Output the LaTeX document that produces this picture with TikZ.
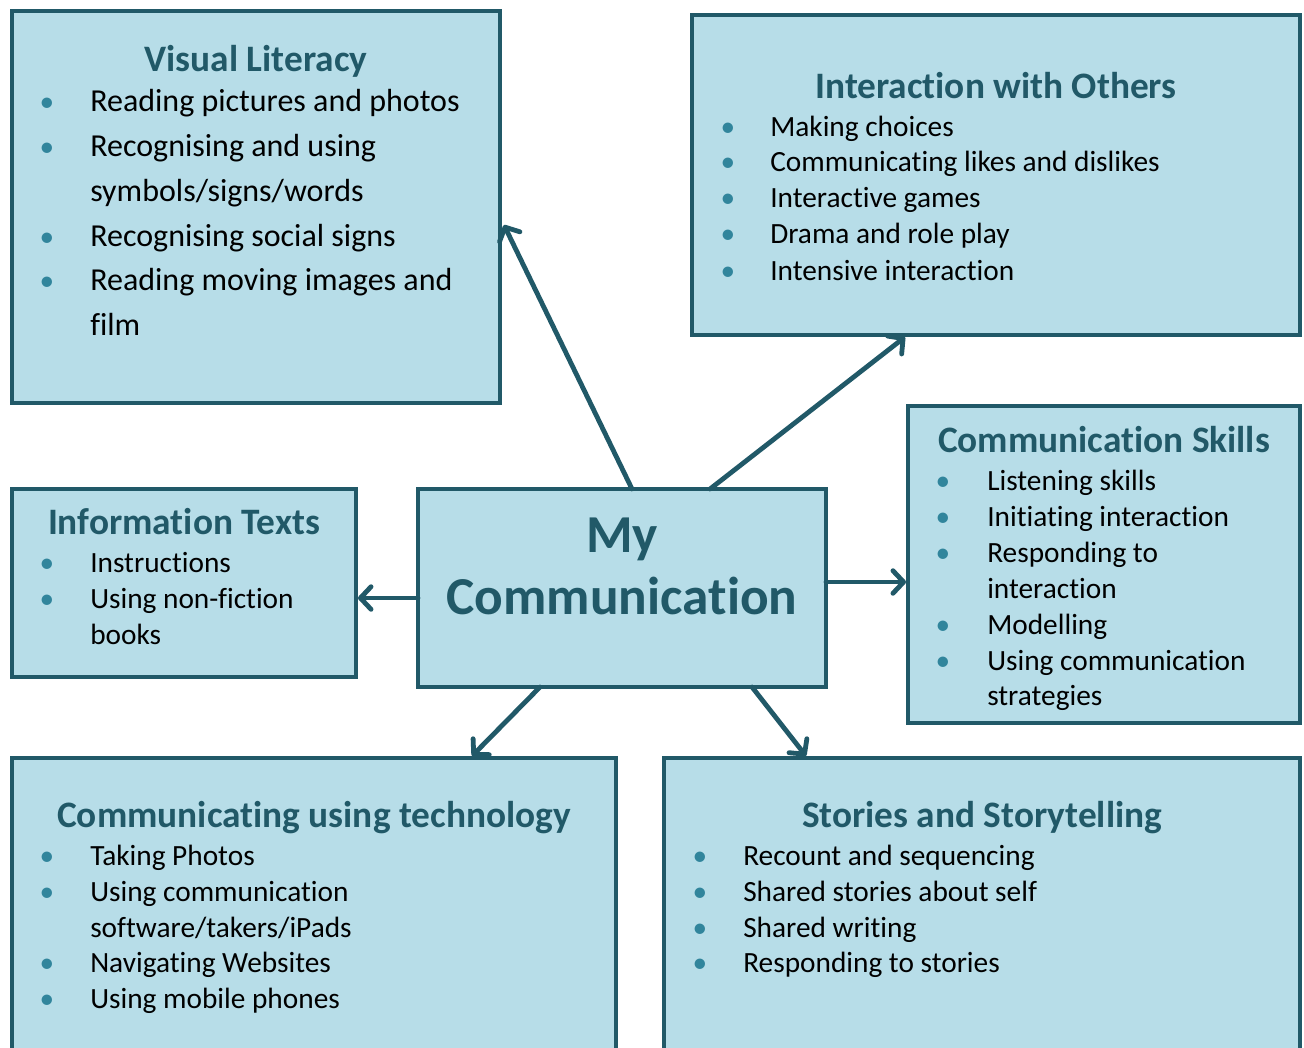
\documentclass[tikz,border=0pt]{standalone}
\usepackage{fontspec}
\setmainfont{Carlito}[Ligatures=NoCommon]
\usetikzlibrary{arrows.meta,calc}
\definecolor{boxfill}{HTML}{B7DDE8}
\definecolor{boxline}{HTML}{215968}
\definecolor{bulletc}{HTML}{31859C}
\begin{document}
\begin{tikzpicture}[x=0.75pt,y=-0.75pt,
  box/.style={draw=boxline,fill=boxfill,line width=3pt,inner sep=0pt,outer sep=0pt,anchor=north west,rectangle},
  conn/.style={draw=boxline,line width=3.6pt,line cap=round,-{Straight Barb[length=8pt,width=17pt,line cap=round,line join=round]}},
  itm/.style={anchor=base west,inner sep=0pt,font=\fontsize{22}{26}\selectfont},
  itmL/.style={anchor=base west,inner sep=0pt,font=\fontsize{24}{28}\selectfont},
  bul/.style={anchor=base,inner sep=0pt,text=bulletc,font=\fontsize{22}{26}\selectfont},
  ttl/.style={anchor=base,inner sep=0pt,text=boxline,font=\bfseries\fontsize{28}{32}\selectfont},
  big/.style={anchor=base,inner sep=0pt,text=boxline,font=\bfseries\fontsize{40}{46}\selectfont}]
\clip (0,0) rectangle (1304,1047);
\fill[white] (0,0) rectangle (1304,1047);

% boxes
\node[box,minimum width=366pt,minimum height=294pt] (vl) at (12,11) {};
\node[box,minimum width=456pt,minimum height=240pt] (io) at (692,15) {};
\node[box,minimum width=294pt,minimum height=237.75pt] (cs) at (908,406) {};
\node[box,minimum width=258pt,minimum height=141pt] (it) at (12,489) {};
\node[box,minimum width=306pt,minimum height=148.5pt] (mc) at (418,489) {};
\node[box,minimum width=453pt,minimum height=234pt] (ct) at (12,758) {};
\node[box,minimum width=477pt,minimum height=234pt] (st) at (664,758) {};

% connectors
\coordinate (a1s) at ($(mc.north west)+(214,0)$);
\coordinate (a1e) at ($(vl.north east)+(4,214)$);
\coordinate (a2s) at ($(mc.north west)+(292,0)$);
\coordinate (a2e) at ($(io.south west)+(213,2)$);
\coordinate (a3s) at ($(mc.north west)+(0,109)$);
\coordinate (a3e) at ($(it.north east)+(2,109)$);
\coordinate (a4s) at ($(mc.north east)+(0,93)$);
\coordinate (a4e) at ($(cs.north west)+(-2,176)$);
\coordinate (a5s) at ($(mc.south west)+(122,0)$);
\coordinate (a5e) at ($(ct.north west)+(460,-2)$);
\coordinate (a6s) at ($(mc.south west)+(334,0)$);
\coordinate (a6e) at ($(st.north west)+(142,-2)$);
\draw[conn] (a1s) -- (a1e);
\draw[conn] (a2s) -- (a2e);
\draw[conn] (a3s) -- (a3e);
\draw[conn] (a4s) -- (a4e);
\draw[conn] (a5s) -- (a5e);
\draw[conn] (a6s) -- (a6e);

% My Communication
\node[big] (mc1) at (622,552) {My};
\node[big] (mc2) at (622,614) {Communication};

% Visual Literacy
\node[ttl] (vlt) at (256,71) {Visual Literacy};
\node[bul] (vlb1) at (47,111) {•};
\node[itmL] (vl1) at (90,111) {Reading pictures and photos};
\node[bul] (vlb2) at (47,156) {•};
\node[itmL] (vl2) at (90,156) {Recognising and using};
\node[itmL] (vl3) at (90,201) {symbols/signs/words};
\node[bul] (vlb4) at (47,246) {•};
\node[itmL] (vl4) at (90,246) {Recognising social signs};
\node[bul] (vlb5) at (47,290) {•};
\node[itmL] (vl5) at (90,290) {Reading moving images and};
\node[itmL] (vl6) at (90,335) {film};

% Interaction with Others
\node[ttl] (iot) at (996,98) {Interaction with Others};
\node[bul] (iob1) at (728,136) {•};
\node[itm] (io1) at (770,136) {Making choices};
\node[bul] (iob2) at (728,171) {•};
\node[itm] (io2) at (770,171) {Communicating likes and dislikes};
\node[bul] (iob3) at (728,207) {•};
\node[itm] (io3) at (770,207) {Interactive games};
\node[bul] (iob4) at (728,243) {•};
\node[itm] (io4) at (770,243) {Drama and role play};
\node[bul] (iob5) at (728,280) {•};
\node[itm] (io5) at (770,280) {Intensive interaction};

% Communication Skills
\node[ttl] (cst) at (1104,452) {Communication Skills};
\node[bul] (csb1) at (943,490) {•};
\node[itm] (cs1) at (987,490) {Listening skills};
\node[bul] (csb2) at (943,526) {•};
\node[itm] (cs2) at (987,526) {Initiating interaction};
\node[bul] (csb3) at (943,562) {•};
\node[itm] (cs3) at (987,562) {Responding to};
\node[itm] (cs4) at (987,598) {interaction};
\node[bul] (csb5) at (943,634) {•};
\node[itm] (cs5) at (987,634) {Modelling};
\node[bul] (csb6) at (943,670) {•};
\node[itm] (cs6) at (987,670) {Using communication};
\node[itm] (cs7) at (987,705) {strategies};

% Information Texts
\node[ttl] (itt) at (184,534) {Information Texts};
\node[bul] (itb1) at (47,572) {•};
\node[itm] (it1) at (90,572) {Instructions};
\node[bul] (itb2) at (47,608) {•};
\node[itm] (it2) at (90,608) {Using non-fiction};
\node[itm] (it3) at (90,644) {books};

% Communicating using technology
\node[ttl] (ctt) at (314,827) {Communicating using technology};
\node[bul] (ctb1) at (47,865) {•};
\node[itm] (ct1) at (90,865) {Taking Photos};
\node[bul] (ctb2) at (47,901) {•};
\node[itm] (ct2) at (90,901) {Using communication};
\node[itm] (ct3) at (90,937) {software/takers/iPads};
\node[bul] (ctb4) at (47,972) {•};
\node[itm] (ct4) at (90,972) {Navigating Websites};
\node[bul] (ctb5) at (47,1008) {•};
\node[itm] (ct5) at (90,1008) {Using mobile phones};

% Stories and Storytelling
\node[ttl] (stt) at (982,827) {Stories and Storytelling};
\node[bul] (stb1) at (700,865) {•};
\node[itm] (st1) at (743,865) {Recount and sequencing};
\node[bul] (stb2) at (700,901) {•};
\node[itm] (st2) at (743,901) {Shared stories about self};
\node[bul] (stb3) at (700,937) {•};
\node[itm] (st3) at (743,937) {Shared writing};
\node[bul] (stb4) at (700,972) {•};
\node[itm] (st4) at (743,972) {Responding to stories};
\end{tikzpicture}
\end{document}
